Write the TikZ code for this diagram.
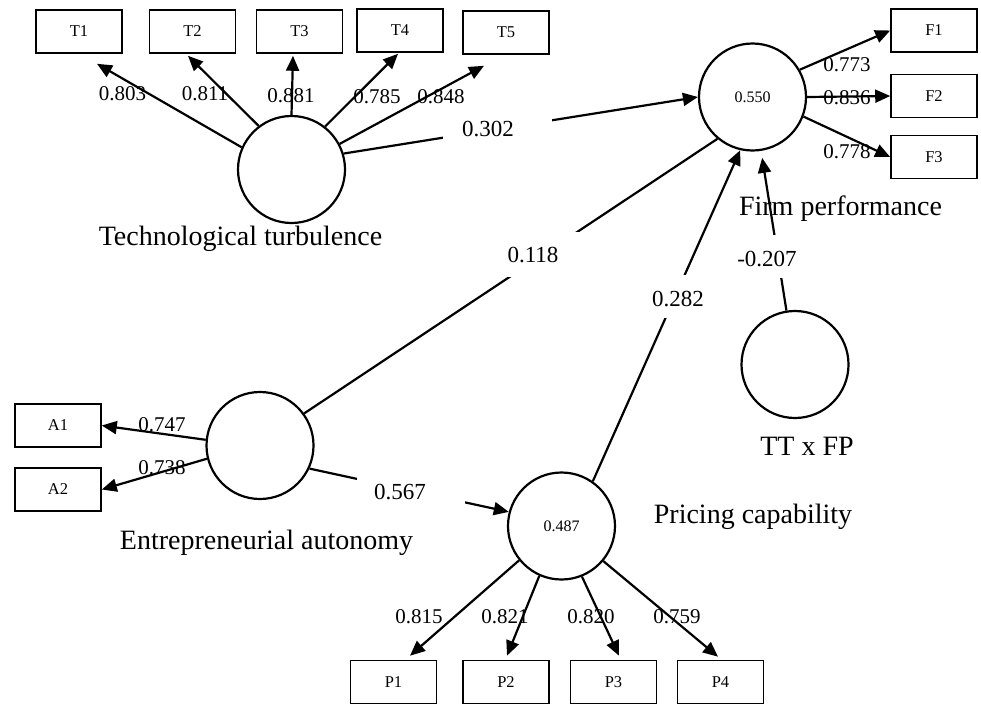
\documentclass[tikz,border=0pt]{standalone}
\usepackage{fontspec}
\setmainfont{Liberation Serif}
\usetikzlibrary{arrows.meta}
\begin{document}
\begin{tikzpicture}[x=1pt,y=-1pt,
  ind/.style={draw, line width=1.6pt, minimum width=86pt, minimum height=43pt, inner sep=0pt, font=\fontsize{16.5}{18}\selectfont},
  lat/.style={draw, circle, line width=2.2pt, minimum size=107pt, inner sep=0pt, font=\fontsize{16}{18}\selectfont},
  arr/.style={line width=2.2pt, -{Triangle[length=15pt,width=13pt]}},
  ln/.style={line width=2.2pt},
  load/.style={font=\fontsize{21}{24}\selectfont, inner sep=0pt},
  coef/.style={font=\fontsize{23}{26}\selectfont, inner sep=0pt},
  mask/.style={fill=white, inner sep=0pt},
  lname/.style={font=\fontsize{28}{32}\selectfont, inner sep=0pt}]
\useasboundingbox (0,0) rectangle (981,704);

% indicator boxes
\node[ind] (t1) at (79,31.5) {T1};
\node[ind] (t2) at (192.5,31.5) {T2};
\node[ind] (t3) at (299.5,31.5) {T3};
\node[ind] (t4) at (400,30.5) {T4};
\node[ind] (t5) at (506,32.5) {T5};
\node[ind] (f1) at (934,30.5) {F1};
\node[ind] (f2) at (934,96) {F2};
\node[ind] (f3) at (934,157) {F3};
\node[ind] (a1) at (58,425.5) {A1};
\node[ind] (a2) at (58,489.5) {A2};
\node[ind] (p1) at (393.5,682) {P1};
\node[ind] (p2) at (506,682) {P2};
\node[ind] (p3) at (613.5,682) {P3};
\node[ind] (p4) at (720.5,682) {P4};

% latent variables
\node[lat] (tt) at (291.5,169.5) {};
\node[lat] (fp) at (752.5,97) {0.550};
\node[lat] (ea) at (260,445.5) {};
\node[lat] (pc) at (561.5,526) {0.487};
\node[lat] (ttfp) at (795,364.5) {};

% loadings
\draw[arr] (tt.156) -- ([shift={(18,10)}]t1.south);
\draw[arr] (tt.127) -- ([shift={(-4.5,2)}]t2.south);
\draw[arr] (tt.90) -- ([shift={(-6.5,2)}]t3.south);
\draw[arr] (tt.52) -- ([shift={(-2,1)}]t4.south);
\draw[arr] (tt.28) -- ([shift={(-22,11)}]t5.south);
\draw[arr] (fp.30) -- (f1.west);
\draw[arr] (fp.0) -- (f2.west);
\draw[arr] (fp.339) -- (f3.west);
\draw[arr] (ea.174) -- (a1.east);
\draw[arr] (ea.194.6) -- (a2.east);
\draw[arr] (pc.219) -- ([shift={(16.5,-4)}]p1.north);
\draw[arr] (pc.246) -- ([shift={(1,-4)}]p2.north);
\draw[arr] (pc.292) -- ([shift={(5.5,-4)}]p3.north);
\draw[arr] (pc.320) -- ([shift={(-2.5,-3)}]p4.north);

% structural paths
\draw[arr] (tt.17) -- (fp.180);
\draw[ln] (ea.36) -- (fp.230.5);
\draw[arr] (ea.335) -- (pc.165);
\draw[arr] (pc.55) -- (fp.257);
\draw[arr, shorten >=7pt] (ttfp) -- (fp);

% masks behind path coefficients
\node[mask, minimum width=109pt, minimum height=34pt] (m1) at (497.5,129) {};
\node[mask, minimum width=83pt, minimum height=45pt] (m2) at (538.5,254.5) {};
\node[mask, minimum width=70pt, minimum height=43pt] (m3) at (676,296.5) {};
\node[mask, minimum width=108pt, minimum height=32pt] (m4) at (411,490) {};
\node[mask, minimum width=70pt, minimum height=43pt] (m5) at (775,256.5) {};

% path coefficients
\node[coef] (c1) at (488,129) {0.302};
\node[coef] (c2) at (533,255) {0.118};
\node[coef] (c3) at (678,299) {0.282};
\node[coef] (c4) at (400,492) {0.567};
\node[coef] (c5) at (767,259) {-0.207};

% loading labels
\node[load] (l1) at (122.5,94) {0.803};
\node[load] (l2) at (205,94) {0.811};
\node[load] (l3) at (291,96) {0.881};
\node[load] (l4) at (377,97) {0.785};
\node[load] (l5) at (441,97) {0.848};
\node[load] (l6) at (847,65) {0.773};
\node[load] (l7) at (847,98) {0.836};
\node[load] (l8) at (847,152) {0.778};
\node[load] (l9) at (162,425) {0.747};
\node[load] (l10) at (162,468) {0.738};
\node[load] (l11) at (419,617) {0.815};
\node[load] (l12) at (505,617) {0.821};
\node[load] (l13) at (591,617) {0.820};
\node[load] (l14) at (677,617) {0.759};

% construct names
\node[lname] (n1) at (240.5,239) {Technological turbulence};
\node[lname] (n2) at (840.5,209) {Firm performance};
\node[lname] (n3) at (266.5,543) {Entrepreneurial autonomy};
\node[lname] (n4) at (753,517) {Pricing capability};
\node[lname] (n5) at (807,446) {TT x FP};
\end{tikzpicture}
\end{document}
